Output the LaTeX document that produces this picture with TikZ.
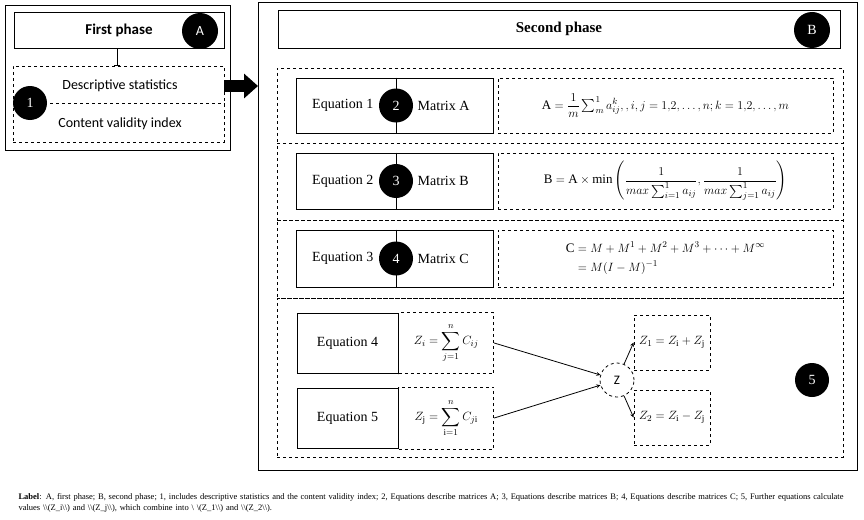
\documentclass[tikz,border=0pt]{standalone}
\usepackage{amsmath,amssymb}
\usepackage{fontspec}
\setmainfont{Liberation Serif}
\newfontfamily\calib{Carlito}
\usetikzlibrary{shapes.geometric, arrows, arrows.meta, positioning, calc}

\begin{document}
\begin{tikzpicture}[
    x=1pt, y=-1pt,
    >=stealth,
    every node/.style={align=center}
]
    % Define styles
    \tikzstyle{phase} = [draw, thick, rectangle, inner sep=0pt]
    \tikzstyle{section} = [draw, thick, dashed, rectangle, inner sep=0pt]
    \tikzstyle{eqbox} = [draw, thick, rectangle, inner sep=0pt, font=\fontsize{14}{16}\selectfont]
    \tikzstyle{formula} = [draw, thick, dashed, rectangle, inner sep=0pt, font=\fontsize{13}{16}\selectfont]
    \tikzstyle{badge} = [circle, fill=black, text=white, minimum size=34pt, inner sep=0pt, font=\fontsize{14}{16}\selectfont]
    \tikzstyle{arrow} = [thick, ->, >=stealth]

    \useasboundingbox (0,0) rectangle (864,519);

    % First phase
    \draw [thick] (5,5) rectangle (230,150);
    \node [phase, minimum width=210pt, minimum height=36pt, font=\calib\bfseries\fontsize{15}{17}\selectfont] (first) at (119,30) {First phase};
    \node [badge, minimum size=36pt, font=\calib\fontsize{14}{16}\selectfont] (A) at (200,31) {A};
    \node [section, minimum width=211pt, minimum height=76pt] (tools) at (118.5,104) {};
    \node [font=\calib\fontsize{14}{16}\selectfont] (desc) at (120,86) {Descriptive statistics};
    \node [font=\calib\fontsize{14}{16}\selectfont] (cvi) at (120,124) {Content validity index};
    \draw [thick, dashed] (50,103) -- (tools.east |- 0,103);
    \node [badge] (one) at (30,103) {1};
    \draw [thick, -|] (first.south -| 117,0) -- (tools.north -| 117,0);

    % Big arrow
    \draw [line width=12pt, -{Triangle[length=14pt, width=24pt]}] (tools.east |- 0,86) -- (258,86);

    % Second phase
    \draw [thick] (258,2) rectangle (857,470);
    \node [phase, minimum width=562pt, minimum height=38pt, font=\bfseries\fontsize{15}{17}\selectfont] (second) at (559,29) {Second phase};
    \node [badge, minimum size=36pt] (B) at (812,30) {B};

    % Equations 1-3
    \node [section, minimum width=566pt, minimum height=75pt] (sec1) at (560,105.5) {};
    \node [section, minimum width=566pt, minimum height=77pt] (sec2) at (560,181.5) {};
    \node [section, minimum width=566pt, minimum height=78pt] (sec3) at (560,259) {};

    \node [eqbox, minimum width=197pt, minimum height=55pt] (eq1) at (394.5,105.5) {};
    \node [eqbox, minimum width=197pt, minimum height=56pt] (eq2) at (394.5,181) {};
    \node [eqbox, minimum width=197pt, minimum height=57pt] (eq3) at (394.5,258.5) {};
    \foreach \i/\j/\m in {1/2/A, 2/3/B, 3/4/C} {
        \draw [thick] (eq\i.north -| 396,0) -- (eq\i.south -| 396,0);
        \node [badge] (n\j) at (eq\i.center -| 396,0) {\j};
        \node [font=\fontsize{14}{16}\selectfont, left=2pt of n\j] {Equation \i};
        \node [font=\fontsize{14}{16}\selectfont, right=1pt of n\j] {Matrix \m};
    }

    \node [formula, minimum width=335pt, minimum height=55pt] (f1) at (665.5,105.5)
        {$\mathrm{A}=\dfrac{1}{m}\sum\nolimits_{m}^{1} a_{ij}^{k},,i,j=1{,}2,\dots,n;k=1{,}2,\dots,m$};
    \node [formula, minimum width=335pt, minimum height=56pt] (f2) at (665.5,181)
        {$\mathrm{B}=\mathrm{A}\times\min\left(\dfrac{1}{max\sum_{i=1}^{1}a_{ij}},\dfrac{1}{max\sum_{j=1}^{1}a_{ij}}\right)$};
    \node [formula, minimum width=335pt, minimum height=57pt] (f3) at (665.5,258.5)
        {$\begin{aligned}\mathrm{C}&=M+M^{1}+M^{2}+M^{3}+\cdots+M^{\infty}\\&=M(I-M)^{-1}\end{aligned}$};

    % Equations 4 and 5
    \node [section, minimum width=566pt, minimum height=159pt] (sec4) at (560,377.5) {};
    \node [eqbox, minimum width=101pt, minimum height=60pt] (eq4) at (347.5,343) {Equation 4};
    \node [eqbox, minimum width=101pt, minimum height=60pt] (eq5) at (347.5,418) {Equation 5};
    \node [formula, minimum width=95pt, minimum height=61pt, right=0pt of eq4] (zi)
        {$Z_i=\displaystyle\sum_{j=1}^{n}C_{ij}$};
    \node [formula, minimum width=95pt, minimum height=62pt, right=0pt of eq5] (zj)
        {$Z_{\mathrm{j}}=\displaystyle\sum_{\mathrm{i}=1}^{n}C_{j\mathrm{i}}$};
    \node [draw, thick, dashed, circle, minimum size=34pt, inner sep=0pt, font=\calib\fontsize{13}{15}\selectfont] (z) at (617,380) {Z};
    \node [formula, minimum width=76pt, minimum height=55pt] (z1) at (672,342.5) {$Z_1=Z_{\mathrm{i}}+Z_{\mathrm{j}}$};
    \node [formula, minimum width=76pt, minimum height=55pt] (z2) at (672,417.5) {$Z_2=Z_{\mathrm{i}}-Z_{\mathrm{j}}$};
    \node [badge] (five) at (812,380) {5};

    \draw [arrow] (zi.east) -- (z);
    \draw [arrow] (zj.east) -- (z);
    \draw [arrow] (z) -- (z1.west);
    \draw [arrow] (z) -- (z2.west);

    % Label
    \node [text width=835pt, align=left, font=\fontsize{8.5}{11}\selectfont, anchor=north west] (label) at (15,490)
        {\textbf{Label}: A, first phase; B, second phase; 1, includes descriptive statistics and the content validity index; 2, Equations describe matrices A; 3, Equations describe matrices B; 4, Equations describe matrices C; 5, Further equations calculate values \textbackslash\textbackslash(Z\_i\textbackslash\textbackslash) and \textbackslash\textbackslash(Z\_j\textbackslash\textbackslash), which combine into \textbackslash\ \textbackslash(Z\_1\textbackslash\textbackslash) and \textbackslash\textbackslash(Z\_2\textbackslash\textbackslash).};
\end{tikzpicture}
\end{document}
